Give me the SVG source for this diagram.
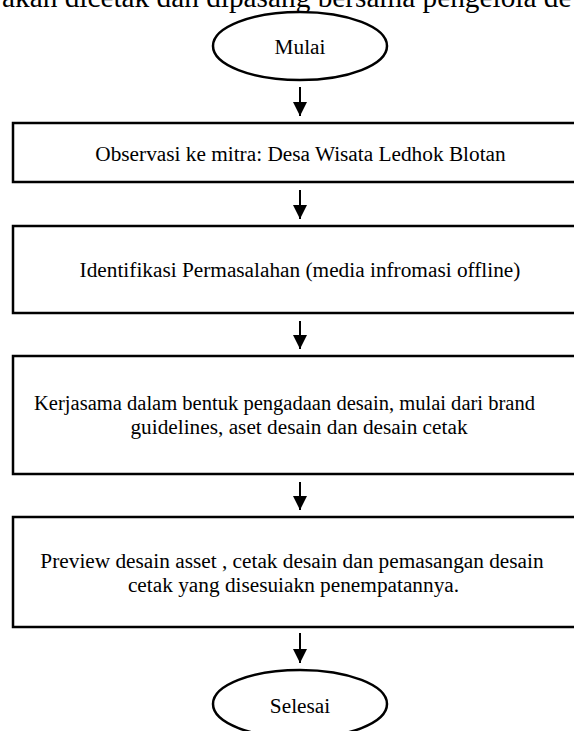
<svg xmlns="http://www.w3.org/2000/svg" width="574" height="731" viewBox="0 0 574 731">
<style>
  .t { font-family: "Liberation Serif", "Times New Roman", serif; font-size: 21.3px; fill: #000; }
  .head { font-family: "Liberation Serif", "Times New Roman", serif; font-size: 29.3px; fill: #000; }
  .box { fill: #fff; stroke: #000; stroke-width: 2.5; }
  .term { fill: #fff; stroke: #000; stroke-width: 2.5; }
  .conn { stroke: #000; stroke-width: 2; fill: none; marker-end: url(#arrow); }
</style>
<defs>
  <marker id="arrow" markerUnits="userSpaceOnUse" markerWidth="16" markerHeight="16" viewBox="0 0 14 16" refX="14" refY="7" orient="auto">
    <path d="M0,0 L14,7 L0,14 Z" fill="#000"/>
  </marker>
</defs>
<rect width="574" height="731" fill="#fff"/>
<text class="head" x="2" y="7">akan dicetak dan dipasang bersama pengelola de</text>

<g id="connectors">
  <line class="conn" x1="300" y1="87" x2="300" y2="116"/>
  <line class="conn" x1="300" y1="190" x2="300" y2="219"/>
  <line class="conn" x1="300" y1="321" x2="300" y2="349"/>
  <line class="conn" x1="300" y1="482" x2="300" y2="510"/>
  <line class="conn" x1="300" y1="633" x2="300" y2="663"/>
</g>

<g id="start">
  <ellipse class="term" cx="300" cy="46" rx="87" ry="34"/>
  <text class="t" x="300" y="54" text-anchor="middle">Mulai</text>
</g>

<g id="step1">
  <rect class="box" x="13" y="123" width="576" height="59"/>
  <text class="t" x="300.5" y="161" text-anchor="middle">Observasi ke mitra: Desa Wisata Ledhok Blotan</text>
</g>

<g id="step2">
  <rect class="box" x="13" y="226" width="576" height="87"/>
  <text class="t" x="300" y="277" text-anchor="middle">Identifikasi Permasalahan (media infromasi offline)</text>
</g>

<g id="step3">
  <rect class="box" x="13" y="356" width="576" height="118"/>
  <text class="t" x="34" y="410" textLength="501" lengthAdjust="spacingAndGlyphs">Kerjasama dalam bentuk pengadaan desain, mulai dari brand</text>
  <text class="t" x="299" y="434" text-anchor="middle">guidelines, aset desain dan desain cetak</text>
</g>

<g id="step4">
  <rect class="box" x="13" y="517" width="576" height="110"/>
  <text class="t" x="292" y="568" text-anchor="middle">Preview desain asset , cetak desain dan pemasangan desain</text>
  <text class="t" x="293.5" y="592" text-anchor="middle">cetak yang disesuiakn penempatannya.</text>
</g>

<g id="end">
  <ellipse class="term" cx="300" cy="704" rx="87" ry="34"/>
  <text class="t" x="300" y="713" text-anchor="middle">Selesai</text>
</g>
</svg>
